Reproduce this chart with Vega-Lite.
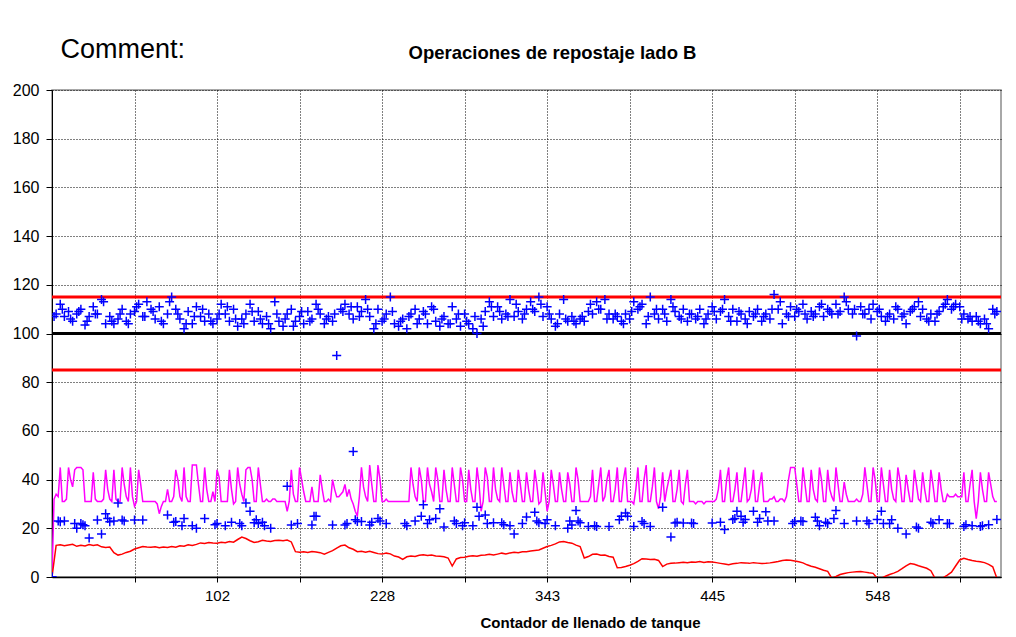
{
  "$schema": "https://vega.github.io/schema/vega-lite/v6.json",
  "width": 949,
  "height": 487,
  "autosize": {"type": "none"},
  "padding": {"left": 52, "top": 90, "right": 15, "bottom": 60},
  "background": "#ffffff",
  "title": {"text": "Operaciones de repostaje lado B", "font": "Liberation Sans", "fontSize": 18.5, "fontWeight": "bold", "color": "#000000", "anchor": "middle", "frame": "group", "dx": 26, "offset": -27},
  "config": {
    "view": {"stroke": "#8c8c8c", "strokeWidth": 1.5},
    "axis": {"labelFont": "Liberation Sans", "labelFontSize": 15, "labelColor": "#000000", "titleFont": "Liberation Sans", "titleColor": "#000000", "domainColor": "#000000", "tickColor": "#000000", "gridColor": "#000000", "gridDash": [1, 2], "gridOpacity": 1, "gridWidth": 1},
    "axisY": {"tickCount": 10, "tickSize": 6, "labelPadding": 7, "labelFontSize": 16, "domainWidth": 1, "titleAngle": 0, "titleAlign": "left", "titleBaseline": "alphabetic", "titleX": 8, "titleY": -33, "titleFontSize": 27, "titleFontWeight": "normal"},
    "axisX": {"tickSize": 5, "labelPadding": 6, "domainWidth": 1.5, "titleFontSize": 15, "titleFontWeight": "bold", "titleX": 538, "titleY": 45, "titleBaseline": "middle", "titleAlign": "center", "labelFlush": false, "labelOverlap": false}
  },
  "datasets": {
    "limits": [
      {"v": 115, "k": "LSC"},
      {"v": 100, "k": "Nominal"},
      {"v": 85, "k": "LIC"}
    ],
    "main": [
      {"i":0,"u":0,"l":0,"m":0,"r":0},
      {"i":2,"u":108,"m":34,"r":13},
      {"i":4,"u":112,"l":22.7,"m":45,"r":13.2},
      {"i":6,"u":107,"l":23,"m":31,"r":12.8},
      {"i":8,"u":109,"m":45,"r":13.1},
      {"i":10,"u":105,"m":37,"r":13.4},
      {"i":12,"u":108,"l":20,"m":45,"r":12.6},
      {"i":14,"u":110,"l":22,"m":45,"r":13},
      {"i":16,"u":103.5,"l":21,"m":31,"r":12.7},
      {"i":18,"u":107,"l":16,"m":31,"r":13.3},
      {"i":20,"u":111,"m":43,"r":12.9},
      {"i":22,"u":108,"l":23.4,"m":31,"r":13.2},
      {"i":24,"u":114,"l":17.7,"m":31,"r":12.4},
      {"i":26,"u":104,"l":26,"m":44,"r":12.1},
      {"i":28,"u":107,"l":22.7,"m":32,"r":12.3},
      {"i":30,"u":104,"l":23,"m":44,"r":10},
      {"i":32,"u":106,"l":30.4,"m":31,"r":9},
      {"i":34,"u":110,"l":23.4,"m":45,"r":9.4},
      {"i":36,"u":105,"m":33,"r":10.1},
      {"i":38,"u":108,"m":45,"r":10.6},
      {"i":40,"u":109,"l":23.4,"m":29,"r":11.5},
      {"i":42,"u":112,"m":44,"r":12},
      {"i":44,"u":107,"l":23.4,"m":31,"r":12.5},
      {"i":46,"u":113,"m":31,"r":12.3},
      {"i":48,"u":110,"m":31,"r":12.2},
      {"i":50,"u":106,"m":31,"r":12.4},
      {"i":52,"u":111,"m":26,"r":12},
      {"i":54,"u":104,"m":31,"r":12.3},
      {"i":56,"u":108,"l":25.5,"m":36,"r":12.1},
      {"i":58,"u":115,"m":31,"r":12.5},
      {"i":60,"u":110,"l":22.8,"m":44,"r":12.2},
      {"i":62,"u":106,"m":33,"r":12.8},
      {"i":64,"u":102,"l":24,"m":45,"r":12.6},
      {"i":66,"u":109,"m":31,"r":13.2},
      {"i":68,"u":104,"l":21,"m":46,"r":12.9},
      {"i":70,"u":111,"l":20,"m":46,"r":13.4},
      {"i":72,"u":107,"m":31,"r":14},
      {"i":74,"u":105,"l":24,"m":45,"r":13.8},
      {"i":76,"u":108,"m":31,"r":14.2},
      {"i":78,"u":104,"m":35,"r":14},
      {"i":80,"u":106,"l":22,"m":44,"r":13.9},
      {"i":82,"u":112,"m":31,"r":14.3},
      {"i":84,"u":108,"l":21,"m":31,"r":14.1},
      {"i":86,"u":105,"m":44,"r":14.6},
      {"i":88,"u":110,"m":30,"r":14.3},
      {"i":90,"u":103,"m":45,"r":15.4},
      {"i":92,"u":106,"l":21,"m":34,"r":16.4},
      {"i":94,"u":108,"l":30.4,"m":44,"r":15.8},
      {"i":96,"u":112,"l":27,"m":45,"r":14.9},
      {"i":98,"u":105,"l":22.3,"m":31,"r":14.2},
      {"i":100,"u":109,"l":22,"m":45,"r":14.5},
      {"i":102,"u":104,"l":22.5,"m":31,"r":15.1},
      {"i":104,"u":107,"m":32,"r":14.8},
      {"i":106,"u":102,"l":20,"m":31,"r":14.6},
      {"i":108,"u":113,"m":32,"r":15},
      {"i":110,"u":105,"m":31,"r":15.1},
      {"i":112,"u":103,"m":31,"r":14.9},
      {"i":114,"u":108,"l":37.3,"m":27,"r":15.2},
      {"i":116,"u":110,"l":21.4,"m":44,"r":14.4},
      {"i":118,"u":105,"m":31,"r":10.4},
      {"i":120,"u":107,"m":45,"r":10.2},
      {"i":122,"u":104,"m":35,"r":10.4},
      {"i":124,"u":109,"m":31,"r":10.1},
      {"i":126,"u":106,"l":21.4,"m":37,"r":10.5},
      {"i":128,"u":112,"l":24.9,"m":31,"r":10.3},
      {"i":130,"u":108,"m":42,"r":10},
      {"i":132,"u":104,"m":31,"r":9.4},
      {"i":134,"u":107,"m":32,"r":10.1},
      {"i":136,"u":105,"l":21.4,"m":40,"r":10.8},
      {"i":138,"u":91,"m":33,"r":11.9},
      {"i":140,"u":110,"m":34,"r":12.8},
      {"i":142,"u":112,"l":21.4,"m":38,"r":13.1},
      {"i":144,"u":108,"m":36,"r":12},
      {"i":146,"u":106,"l":51.5,"m":30,"r":11.4},
      {"i":148,"u":111,"l":22.8,"m":25,"r":10.4},
      {"i":150,"u":109,"l":22.8,"m":45,"r":10.6},
      {"i":152,"u":114,"m":33,"r":10.2},
      {"i":154,"u":107,"l":21.4,"m":46,"r":10.6},
      {"i":156,"u":102,"m":31,"r":10.1},
      {"i":158,"u":110,"l":24,"m":46,"r":9.6},
      {"i":160,"u":105,"m":31,"r":9.4},
      {"i":162,"u":108,"l":22,"m":32,"r":9.8},
      {"i":164,"u":115,"m":31,"r":9.5},
      {"i":166,"u":104,"m":31,"r":8.6},
      {"i":168,"u":103,"m":31,"r":8.2},
      {"i":170,"u":106,"m":31,"r":7.2},
      {"i":172,"u":102,"l":21,"m":31,"r":8.3},
      {"i":174,"u":108,"m":45,"r":8.6},
      {"i":176,"u":110,"l":23,"m":33,"r":8.4},
      {"i":178,"u":106,"m":45,"r":8.9},
      {"i":180,"u":109,"l":29.7,"m":31,"r":9.1},
      {"i":182,"u":104,"l":22,"m":45,"r":8.8},
      {"i":184,"u":111,"m":35,"r":9},
      {"i":186,"u":105,"l":24,"m":45,"r":8.6},
      {"i":188,"u":103,"l":28,"m":31,"r":8.5},
      {"i":190,"u":107,"l":20.5,"m":44,"r":8.3},
      {"i":192,"u":104,"m":31,"r":7.8},
      {"i":194,"u":111,"m":45,"r":4.5},
      {"i":196,"u":106,"l":22,"m":31,"r":7.4},
      {"i":198,"u":103,"m":45,"r":8},
      {"i":200,"u":108,"l":22.3,"m":31,"r":8.1},
      {"i":202,"u":104,"m":44,"r":8.5},
      {"i":204,"u":102,"l":21,"m":31,"r":8.7},
      {"i":206,"u":100,"l":28.6,"m":45,"r":8.5},
      {"i":208,"u":106,"m":27,"r":8.9},
      {"i":210,"u":109,"l":25.5,"m":45,"r":9},
      {"i":212,"u":113,"m":31,"r":9.3},
      {"i":214,"u":107,"l":22.3,"m":45,"r":9},
      {"i":216,"u":111,"m":32,"r":9.4},
      {"i":218,"u":106,"l":22.3,"m":45,"r":9.8},
      {"i":220,"u":108,"m":31,"r":9.5},
      {"i":222,"u":114,"l":21,"m":43,"r":9.9},
      {"i":224,"u":107,"l":17.7,"m":31,"r":10.2},
      {"i":226,"u":109,"m":44,"r":10},
      {"i":228,"u":106,"l":22,"m":31,"r":10.4},
      {"i":230,"u":110,"l":24.6,"m":43,"r":10.4},
      {"i":232,"u":113,"m":31,"r":10.7},
      {"i":234,"u":109,"l":26.6,"m":44,"r":10.9},
      {"i":236,"u":115,"l":22.3,"m":30,"r":11.1},
      {"i":238,"u":107,"m":43,"r":11.8},
      {"i":240,"u":111,"l":23.5,"m":27,"r":12.5},
      {"i":242,"u":106,"m":44,"r":13},
      {"i":244,"u":103,"l":21,"m":31,"r":13.6},
      {"i":246,"u":108,"m":43,"r":14.4},
      {"i":248,"u":114,"m":31,"r":14.6},
      {"i":250,"u":105,"l":20,"m":43,"r":14.2},
      {"i":252,"u":107,"l":21.4,"m":31,"r":13.9},
      {"i":254,"u":104,"l":27.3,"m":45,"r":13.1},
      {"i":256,"u":106,"l":22.3,"m":31,"r":12.5},
      {"i":258,"u":105,"m":31,"r":7.8},
      {"i":260,"u":109,"l":20.7,"m":31,"r":8.4},
      {"i":262,"u":108,"m":44,"r":9.3},
      {"i":264,"u":113,"l":20.7,"m":31,"r":9.4},
      {"i":266,"u":110,"m":45,"r":8.9},
      {"i":268,"u":114,"m":33,"r":9},
      {"i":270,"u":108,"l":20.7,"m":44,"r":8.4},
      {"i":272,"u":106,"m":31,"r":8.1},
      {"i":274,"u":107,"m":45,"r":3.8},
      {"i":276,"u":105,"l":24.9,"m":31,"r":3.9},
      {"i":278,"u":108,"l":26.3,"m":45,"r":4.3},
      {"i":280,"u":106,"m":31,"r":4.8},
      {"i":282,"u":113,"l":20.7,"m":30,"r":5.5},
      {"i":284,"u":110,"m":45,"r":6.4},
      {"i":286,"u":112,"l":22.8,"m":31,"r":7.5},
      {"i":288,"u":104,"m":46,"r":7.4},
      {"i":290,"u":115,"l":20.7,"m":31,"r":7.2},
      {"i":292,"u":108,"m":45,"r":7.3},
      {"i":294,"u":106,"m":28,"r":6.8},
      {"i":296,"u":110,"l":28.6,"m":43,"r":4.3},
      {"i":298,"u":105,"m":36,"r":5.3},
      {"i":300,"u":114,"l":16.4,"m":44,"r":5.6},
      {"i":302,"u":109,"l":22.2,"m":31,"r":5.7},
      {"i":304,"u":107,"m":44,"r":5.9},
      {"i":306,"u":110,"l":22.2,"m":30,"r":6.1},
      {"i":308,"u":105,"m":44,"r":5.9},
      {"i":310,"u":108,"l":22.2,"m":31,"r":6.2},
      {"i":312,"u":106,"m":30,"r":6.1},
      {"i":314,"u":110,"m":31,"r":6.4},
      {"i":316,"u":104,"m":30,"r":6},
      {"i":318,"u":108,"m":31,"r":6.3},
      {"i":320,"u":111,"l":22.2,"m":31,"r":6.2},
      {"i":322,"u":106,"m":32,"r":5.9},
      {"i":324,"u":109,"l":22.5,"m":44,"r":5.6},
      {"i":326,"u":114,"l":19.5,"m":31,"r":5.3},
      {"i":328,"u":107,"m":45,"r":5},
      {"i":330,"u":110,"l":23.6,"m":31,"r":5.4},
      {"i":332,"u":105,"l":27,"m":43,"r":5.6},
      {"i":334,"u":108,"l":25,"m":31,"r":5.9},
      {"i":336,"u":106,"l":23.6,"m":45,"r":5.8},
      {"i":338,"u":109,"m":32,"r":5.6},
      {"i":340,"u":107,"l":27,"m":44,"r":5.9},
      {"i":342,"u":110,"l":22.5,"m":31,"r":5.7},
      {"i":344,"u":105,"m":43,"r":5.5},
      {"i":346,"u":108,"l":26.8,"m":31,"r":5.6},
      {"i":348,"u":106,"m":32,"r":5.8},
      {"i":350,"u":116,"l":23,"m":33,"r":6.1},
      {"i":352,"u":110,"m":31,"r":6.4},
      {"i":354,"u":104,"m":32,"r":6.8},
      {"i":356,"u":108,"m":33,"r":7},
      {"i":358,"u":111,"m":45,"r":6.9},
      {"i":360,"u":107,"l":22.8,"m":45,"r":6.6},
      {"i":362,"u":109,"m":31,"r":6.3},
      {"i":364,"u":112,"l":22.8,"m":45,"r":5.8},
      {"i":366,"u":106,"m":31,"r":5},
      {"i":368,"u":109,"m":44,"r":4.4},
      {"i":370,"u":108,"l":24.5,"m":32,"r":4},
      {"i":372,"u":111,"l":21,"m":45,"r":3.4},
      {"i":374,"u":107,"m":31,"r":2.8},
      {"i":376,"u":110,"l":22,"m":44,"r":2.3},
      {"i":378,"u":108,"m":33,"r":-0.5},
      {"i":380,"u":112,"l":27.3,"m":45,"r":0.2},
      {"i":382,"u":109,"m":31,"r":1},
      {"i":384,"u":115,"l":22,"m":39,"r":1.4},
      {"i":386,"u":110,"m":31,"r":1.8},
      {"i":388,"u":108,"m":31,"r":2},
      {"i":390,"u":99,"l":23,"m":32,"r":2.2},
      {"i":392,"u":111,"m":31,"r":2.3},
      {"i":394,"u":108,"m":45,"r":2},
      {"i":396,"u":110,"l":22,"m":31,"r":1.7},
      {"i":398,"u":112,"m":45,"r":1.5},
      {"i":400,"u":109,"l":23.6,"m":31,"r":-0.5},
      {"i":402,"u":107,"l":27,"m":45,"r":-0.5},
      {"i":404,"u":105,"m":31,"r":0.3},
      {"i":406,"u":108,"l":22,"m":44,"r":1},
      {"i":408,"u":106,"m":32,"r":1.6},
      {"i":410,"u":110,"l":20,"m":45,"r":2.3},
      {"i":412,"u":107,"m":31,"r":3.4},
      {"i":414,"u":104,"l":17.7,"m":42,"r":4.6},
      {"i":416,"u":109,"m":31,"r":5.5},
      {"i":418,"u":111,"m":44,"r":5.2},
      {"i":420,"u":113,"l":20,"m":32,"r":4.6},
      {"i":422,"u":110,"m":43,"r":4.1},
      {"i":424,"u":106,"m":31,"r":3.6},
      {"i":426,"u":108,"l":22.5,"m":44,"r":2.6},
      {"i":428,"u":105,"m":31,"r":-0.5},
      {"i":430,"u":109,"l":23.5,"m":43,"r":-0.5},
      {"i":432,"u":111,"m":31,"r":-0.3},
      {"i":434,"u":114,"l":22,"m":34,"r":0.8},
      {"i":436,"u":110,"m":33,"r":2},
      {"i":438,"u":112,"m":34,"r":4.5},
      {"i":440,"u":111,"m":33,"r":7},
      {"i":442,"u":108,"l":20.7,"m":43,"r":7.7},
      {"i":444,"u":106,"m":31,"r":7.2},
      {"i":446,"u":105,"l":21,"m":44,"r":6.8},
      {"i":448,"u":107,"m":24,"r":6.5},
      {"i":450,"u":104,"l":20.7,"m":43,"r":6.3},
      {"i":452,"u":106,"m":31,"r":5.9},
      {"i":454,"u":102,"l":21.5,"m":43,"r":5.2},
      {"i":456,"u":110,"m":33,"r":4.2},
      {"i":458,"u":109,"l":23.6,"m":31,"r":-0.5},
      {"i":1,"m":32,"u":107},
      {"i":3,"m":33,"l":23},
      {"i":5,"m":31,"u":110},
      {"i":7,"m":32},
      {"i":9,"m":40,"u":106},
      {"i":11,"m":44,"l":22},
      {"i":13,"m":45,"u":109},
      {"i":15,"m":44,"l":21.5},
      {"i":17,"m":31,"u":105},
      {"i":19,"m":31},
      {"i":21,"m":32,"u":108},
      {"i":23,"m":31},
      {"i":25,"m":32,"u":113},
      {"i":27,"m":36,"l":24},
      {"i":29,"m":31,"u":105},
      {"i":31,"m":32},
      {"i":33,"m":31,"u":108},
      {"i":35,"m":38,"l":23},
      {"i":37,"m":31,"u":104},
      {"i":39,"m":33},
      {"i":41,"m":31,"u":111},
      {"i":43,"m":38},
      {"i":45,"m":31,"u":107},
      {"i":47,"m":31},
      {"i":49,"m":31,"u":109},
      {"i":51,"m":30},
      {"i":53,"m":29,"u":105},
      {"i":55,"m":31},
      {"i":57,"m":31,"u":113},
      {"i":59,"m":33,"l":22.5},
      {"i":61,"m":40,"u":108},
      {"i":63,"m":31,"l":21},
      {"i":65,"m":33,"u":104},
      {"i":67,"m":31},
      {"i":69,"m":46,"u":107},
      {"i":71,"m":38},
      {"i":73,"m":31,"u":110},
      {"i":75,"m":36},
      {"i":77,"m":31,"u":105},
      {"i":79,"m":31,"l":21.5},
      {"i":81,"m":41,"u":108},
      {"i":83,"m":31},
      {"i":85,"m":31,"u":111},
      {"i":87,"m":36,"l":22.5},
      {"i":89,"m":31,"u":106},
      {"i":91,"m":38,"l":22},
      {"i":93,"m":31,"u":104},
      {"i":95,"m":45},
      {"i":97,"m":40,"u":109},
      {"i":99,"m":31,"l":23.5},
      {"i":101,"m":38,"u":106},
      {"i":103,"m":31,"l":21},
      {"i":105,"m":31,"u":104},
      {"i":107,"m":32},
      {"i":109,"m":31,"u":108},
      {"i":111,"m":31},
      {"i":113,"m":31,"u":106},
      {"i":115,"m":31},
      {"i":117,"m":34,"u":103},
      {"i":119,"m":31,"l":22},
      {"i":121,"m":40,"u":109},
      {"i":123,"m":31},
      {"i":125,"m":31,"u":105},
      {"i":127,"m":31,"l":25},
      {"i":129,"m":31,"u":110},
      {"i":131,"m":36},
      {"i":133,"m":31,"u":106},
      {"i":135,"m":31},
      {"i":137,"m":36,"u":108},
      {"i":139,"m":33},
      {"i":141,"m":35,"u":109},
      {"i":143,"m":33,"l":22},
      {"i":145,"m":32,"u":111},
      {"i":147,"m":27,"l":23.5},
      {"i":149,"m":33,"u":107},
      {"i":151,"m":37},
      {"i":153,"m":31,"u":110},
      {"i":155,"m":38,"l":22.5},
      {"i":157,"m":31,"u":104},
      {"i":159,"m":40,"l":23},
      {"i":161,"m":31,"u":106},
      {"i":163,"m":31},
      {"i":165,"m":31,"u":109},
      {"i":167,"m":31},
      {"i":169,"m":31,"u":105},
      {"i":171,"m":31,"l":22},
      {"i":173,"m":31,"u":107},
      {"i":175,"m":38},
      {"i":177,"m":31,"u":104},
      {"i":179,"m":40,"l":25},
      {"i":181,"m":31,"u":108},
      {"i":183,"m":38,"l":23.5},
      {"i":185,"m":31,"u":110},
      {"i":187,"m":40},
      {"i":189,"m":31,"u":106},
      {"i":191,"m":36},
      {"i":193,"m":31,"u":104},
      {"i":195,"m":38,"l":23},
      {"i":197,"m":31,"u":108},
      {"i":199,"m":40,"l":21},
      {"i":201,"m":31,"u":105},
      {"i":203,"m":36},
      {"i":205,"m":31,"u":107},
      {"i":207,"m":38,"l":25},
      {"i":209,"m":31,"u":103},
      {"i":211,"m":41,"l":22},
      {"i":213,"m":31,"u":111},
      {"i":215,"m":36},
      {"i":217,"m":31,"u":109},
      {"i":219,"m":38,"l":21.5},
      {"i":221,"m":31,"u":107},
      {"i":223,"m":35},
      {"i":225,"m":31,"u":112},
      {"i":227,"m":38},
      {"i":229,"m":31,"u":108},
      {"i":231,"m":36},
      {"i":233,"m":31,"u":110},
      {"i":235,"m":38,"l":23},
      {"i":237,"m":31,"u":112},
      {"i":239,"m":35,"l":22},
      {"i":241,"m":31,"u":108},
      {"i":243,"m":38},
      {"i":245,"m":31,"u":104},
      {"i":247,"m":36},
      {"i":249,"m":31,"u":106},
      {"i":251,"m":38,"l":23},
      {"i":253,"m":31,"u":105},
      {"i":255,"m":40,"l":23},
      {"i":257,"m":31,"u":107},
      {"i":259,"m":31},
      {"i":261,"m":33,"u":112},
      {"i":263,"m":31,"l":21},
      {"i":265,"m":38,"u":110},
      {"i":267,"m":31},
      {"i":269,"m":40,"u":106},
      {"i":271,"m":31},
      {"i":273,"m":36,"u":108},
      {"i":275,"m":31,"l":23.5},
      {"i":277,"m":40,"u":104},
      {"i":279,"m":31,"l":25},
      {"i":281,"m":31,"u":109},
      {"i":283,"m":36},
      {"i":285,"m":31,"u":111},
      {"i":287,"m":40,"l":22},
      {"i":289,"m":31,"u":107},
      {"i":291,"m":37},
      {"i":293,"m":31,"u":110},
      {"i":295,"m":33},
      {"i":297,"m":31,"u":108},
      {"i":299,"m":40},
      {"i":301,"m":31,"u":111},
      {"i":303,"m":36,"l":22.5},
      {"i":305,"m":31,"u":106},
      {"i":307,"m":38},
      {"i":309,"m":31,"u":108},
      {"i":311,"m":31,"l":22},
      {"i":313,"m":31,"u":107},
      {"i":315,"m":31},
      {"i":317,"m":31,"u":106},
      {"i":319,"m":31},
      {"i":321,"m":31,"u":109},
      {"i":323,"m":36},
      {"i":325,"m":31,"u":110},
      {"i":327,"m":40},
      {"i":329,"m":31,"u":105},
      {"i":331,"m":36,"l":24},
      {"i":333,"m":31,"u":109},
      {"i":335,"m":38,"l":22.5},
      {"i":337,"m":31,"u":104},
      {"i":339,"m":36},
      {"i":341,"m":31,"u":108},
      {"i":343,"m":38,"l":24},
      {"i":345,"m":31,"u":107},
      {"i":347,"m":31,"l":23},
      {"i":349,"m":32,"u":110},
      {"i":351,"m":31},
      {"i":353,"m":32,"u":113},
      {"i":355,"m":31},
      {"i":357,"m":40,"u":107},
      {"i":359,"m":45,"l":22},
      {"i":361,"m":38,"u":110},
      {"i":363,"m":31,"l":23},
      {"i":365,"m":38,"u":108},
      {"i":367,"m":31},
      {"i":369,"m":36,"u":107},
      {"i":371,"m":31,"l":23},
      {"i":373,"m":40,"u":112},
      {"i":375,"m":31,"l":22.5},
      {"i":377,"m":36,"u":109},
      {"i":379,"m":31,"l":24},
      {"i":381,"m":38,"u":108},
      {"i":383,"m":31},
      {"i":385,"m":34,"u":113},
      {"i":387,"m":31},
      {"i":389,"m":31,"u":110},
      {"i":391,"m":31},
      {"i":393,"m":34,"u":108},
      {"i":395,"m":38,"l":23},
      {"i":397,"m":31,"u":106},
      {"i":399,"m":40},
      {"i":401,"m":31,"u":110},
      {"i":403,"m":38,"l":22},
      {"i":405,"m":31,"u":107},
      {"i":407,"m":36,"l":23.5},
      {"i":409,"m":31,"u":111},
      {"i":411,"m":40},
      {"i":413,"m":31,"u":108},
      {"i":415,"m":36},
      {"i":417,"m":31,"u":110},
      {"i":419,"m":38,"l":20.5},
      {"i":421,"m":31,"u":107},
      {"i":423,"m":36},
      {"i":425,"m":31,"u":105},
      {"i":427,"m":38,"l":22},
      {"i":429,"m":31,"u":108},
      {"i":431,"m":36},
      {"i":433,"m":31,"u":112},
      {"i":435,"m":33,"l":22},
      {"i":437,"m":33,"u":111},
      {"i":439,"m":33},
      {"i":441,"m":33,"u":106},
      {"i":443,"m":31,"l":21.5},
      {"i":445,"m":38,"u":107},
      {"i":447,"m":31},
      {"i":449,"m":31,"u":105},
      {"i":451,"m":36,"l":21},
      {"i":453,"m":31,"u":104},
      {"i":455,"m":38},
      {"i":457,"m":31,"u":108}
    ]
  },
  "layer": [
    {
      "data": {"name": "limits"},
      "mark": {"type": "rule", "strokeWidth": 3},
      "encoding": {
        "y": {"field": "v", "type": "quantitative", "scale": {"domain": [0, 200], "nice": false}, "title": "Comment:"},
        "color": {"field": "k", "type": "nominal", "scale": {"domain": ["LSC", "Nominal", "LIC"], "range": ["#ff0000", "#000000", "#ff0000"]}, "legend": null}
      }
    },
    {
      "data": {"name": "main"},
      "transform": [{"filter": "isValid(datum.m)"}],
      "mark": {"type": "line", "color": "#ff00ff", "strokeWidth": 1.5, "clip": true},
      "encoding": {
        "x": {"field": "i", "type": "quantitative", "scale": {"domain": [0, 460], "nice": false, "zero": false}, "axis": {"title": "Contador de llenado de tanque", "values": [40, 80, 120, 160, 200, 240, 280, 320, 360, 400, 440], "labelExpr": "datum.value == 80 ? '102' : datum.value == 160 ? '228' : datum.value == 240 ? '343' : datum.value == 320 ? '445' : datum.value == 400 ? '548' : ''"}},
        "y": {"field": "m", "type": "quantitative", "scale": {"domain": [0, 200], "nice": false}, "title": "Comment:"}
      }
    },
    {
      "data": {"name": "main"},
      "transform": [{"filter": "isValid(datum.r)"}],
      "mark": {"type": "line", "color": "#ff0000", "strokeWidth": 1.5, "clip": true},
      "encoding": {
        "x": {"field": "i", "type": "quantitative", "scale": {"domain": [0, 460], "nice": false, "zero": false}, "axis": {"title": "Contador de llenado de tanque", "values": [40, 80, 120, 160, 200, 240, 280, 320, 360, 400, 440], "labelExpr": "datum.value == 80 ? '102' : datum.value == 160 ? '228' : datum.value == 240 ? '343' : datum.value == 320 ? '445' : datum.value == 400 ? '548' : ''"}},
        "y": {"field": "r", "type": "quantitative", "scale": {"domain": [0, 200], "nice": false}, "title": "Comment:"}
      }
    },
    {
      "data": {"name": "main"},
      "transform": [{"filter": "isValid(datum.u)"}],
      "mark": {"type": "point", "shape": "M-1,0L1,0M0,-1L0,1", "filled": false, "color": "#0000ff", "strokeWidth": 1.5, "size": 81, "opacity": 1, "clip": true},
      "encoding": {
        "x": {"field": "i", "type": "quantitative", "scale": {"domain": [0, 460], "nice": false, "zero": false}, "axis": {"title": "Contador de llenado de tanque", "values": [40, 80, 120, 160, 200, 240, 280, 320, 360, 400, 440], "labelExpr": "datum.value == 80 ? '102' : datum.value == 160 ? '228' : datum.value == 240 ? '343' : datum.value == 320 ? '445' : datum.value == 400 ? '548' : ''"}},
        "y": {"field": "u", "type": "quantitative", "scale": {"domain": [0, 200], "nice": false}, "title": "Comment:"}
      }
    },
    {
      "data": {"name": "main"},
      "transform": [{"filter": "isValid(datum.l)"}],
      "mark": {"type": "point", "shape": "M-1,0L1,0M0,-1L0,1", "filled": false, "color": "#0000ff", "strokeWidth": 1.5, "size": 81, "opacity": 1, "clip": true},
      "encoding": {
        "x": {"field": "i", "type": "quantitative", "scale": {"domain": [0, 460], "nice": false, "zero": false}, "axis": {"title": "Contador de llenado de tanque", "values": [40, 80, 120, 160, 200, 240, 280, 320, 360, 400, 440], "labelExpr": "datum.value == 80 ? '102' : datum.value == 160 ? '228' : datum.value == 240 ? '343' : datum.value == 320 ? '445' : datum.value == 400 ? '548' : ''"}},
        "y": {"field": "l", "type": "quantitative", "scale": {"domain": [0, 200], "nice": false}, "title": "Comment:"}
      }
    }
  ]
}
